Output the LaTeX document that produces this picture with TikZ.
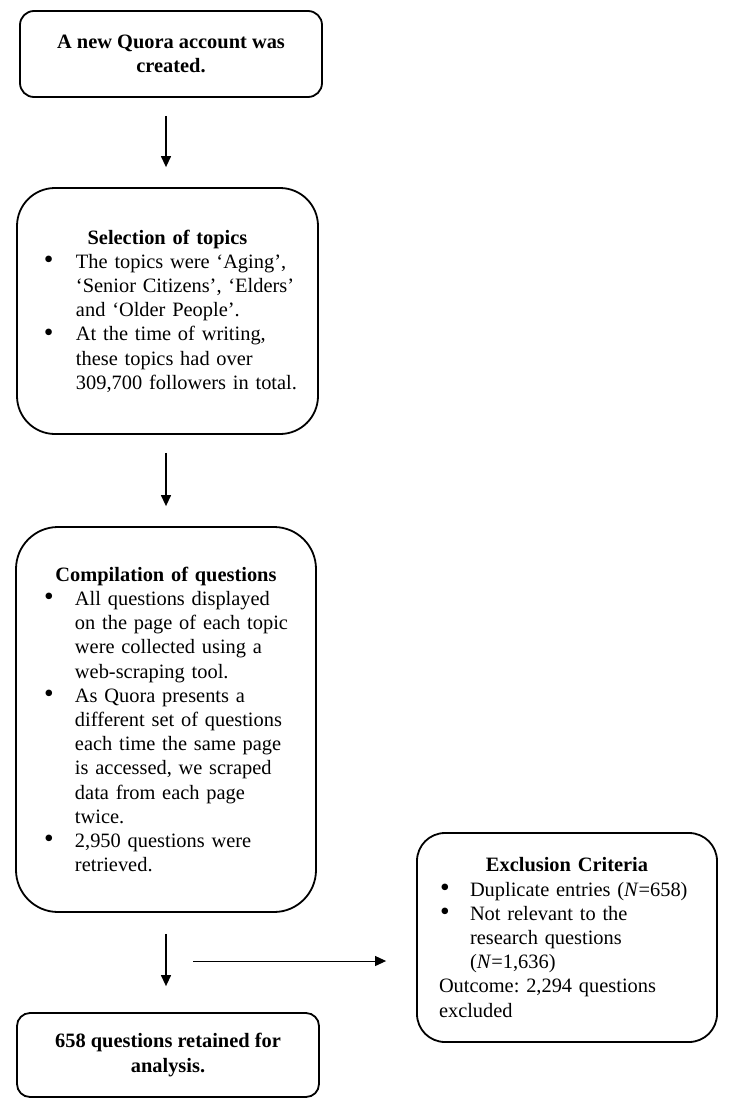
\documentclass[tikz,border=0pt]{standalone}
\usepackage{fontspec}
\setmainfont{Liberation Serif}
\usetikzlibrary{arrows.meta,calc}
\newlength\bulin
\newlength\hangin
\newcommand\bigbul{\raisebox{-0.02em}{\scalebox{1.35}{\textbullet}}}
\newcommand\bitem[1]{\par\noindent\hangindent=\hangin\hangafter=1\makebox[\hangin][l]{\hspace{\bulin}\bigbul}#1}
\frenchspacing
\begin{document}
\begin{tikzpicture}[x=1pt,y=-1pt,
  box/.style={draw, line width=1.8pt, inner sep=0pt},
  bodyfont/.style={font=\fontsize{20.4}{24.2}\selectfont\frenchspacing},
  boldfont/.style={font=\fontsize{20.4}{24.6}\selectfont\bfseries},
  arr/.style={line width=1.3pt, -{Triangle[length=11pt,width=10pt]}}]
\useasboundingbox (0,0) rectangle (740,1117);

\node[box, boldfont, rounded corners=14pt, minimum width=302pt, minimum height=86pt, align=center] (b1) at (171,54)
  {A new Quora account was\\created.};

\node[box, bodyfont, rounded corners=38pt, minimum width=301pt, minimum height=246pt, text width=281pt, align=left] (b2) at (167.5,311)
  {\setlength\bulin{17pt}\setlength\hangin{49pt}%
   {\centering\bfseries Selection of topics\par}
   \bitem{The topics were ‘Aging’,\newline ‘Senior Citizens’, ‘Elders’\newline and ‘Older People’.}
   \bitem{At the time of writing,\newline these topics had over\newline 309,700 followers in total.}\par};

\node[box, bodyfont, rounded corners=42pt, minimum width=300pt, minimum height=385pt, text width=280pt, align=left] (b3) at (166,719.5)
  {\setlength\bulin{18pt}\setlength\hangin{49pt}%
   {\centering\bfseries Compilation of questions\par}
   \bitem{All questions displayed\newline on the page of each topic\newline were collected using a\newline web-scraping tool.}
   \bitem{As Quora presents a\newline different set of questions\newline each time the same page\newline is accessed, we scraped\newline data from each page\newline twice.}
   \bitem{2,950 questions were\newline retrieved.}\par};

\node[box, bodyfont, rounded corners=28pt, minimum width=300pt, minimum height=209pt, text width=262pt, align=left] (ex) at (567,937.5)
  {\setlength\bulin{4pt}\setlength\hangin{34pt}%
   {\centering\bfseries Exclusion Criteria\par}
   \bitem{Duplicate entries (\textit{N}=658)}
   \bitem{Not relevant to the\newline research questions\newline (\textit{N}=1,636)}\par
   {\leftskip=3pt\noindent Outcome: 2,294 questions\newline excluded\par}};

\node[box, boldfont, rounded corners=13pt, minimum width=302pt, minimum height=84pt, align=center] (b4) at (168,1055)
  {658 questions retained for\\analysis.};

\draw[arr, shorten <=18pt, shorten >=20pt] ([xshift=-5pt]b1.south) -- ([xshift=-1.5pt]b2.north);
\draw[arr, shorten <=18pt, shorten >=20pt] ([xshift=-1.5pt]b2.south) -- (b3.north);
\draw[arr, shorten <=21pt, shorten >=26pt] (b3.south) -- ([xshift=-2pt]b4.north);
\coordinate (hs) at (193,961);
\draw[arr, line width=1pt, shorten >=30pt] (hs) -- (hs -| ex.west);
\end{tikzpicture}
\end{document}
